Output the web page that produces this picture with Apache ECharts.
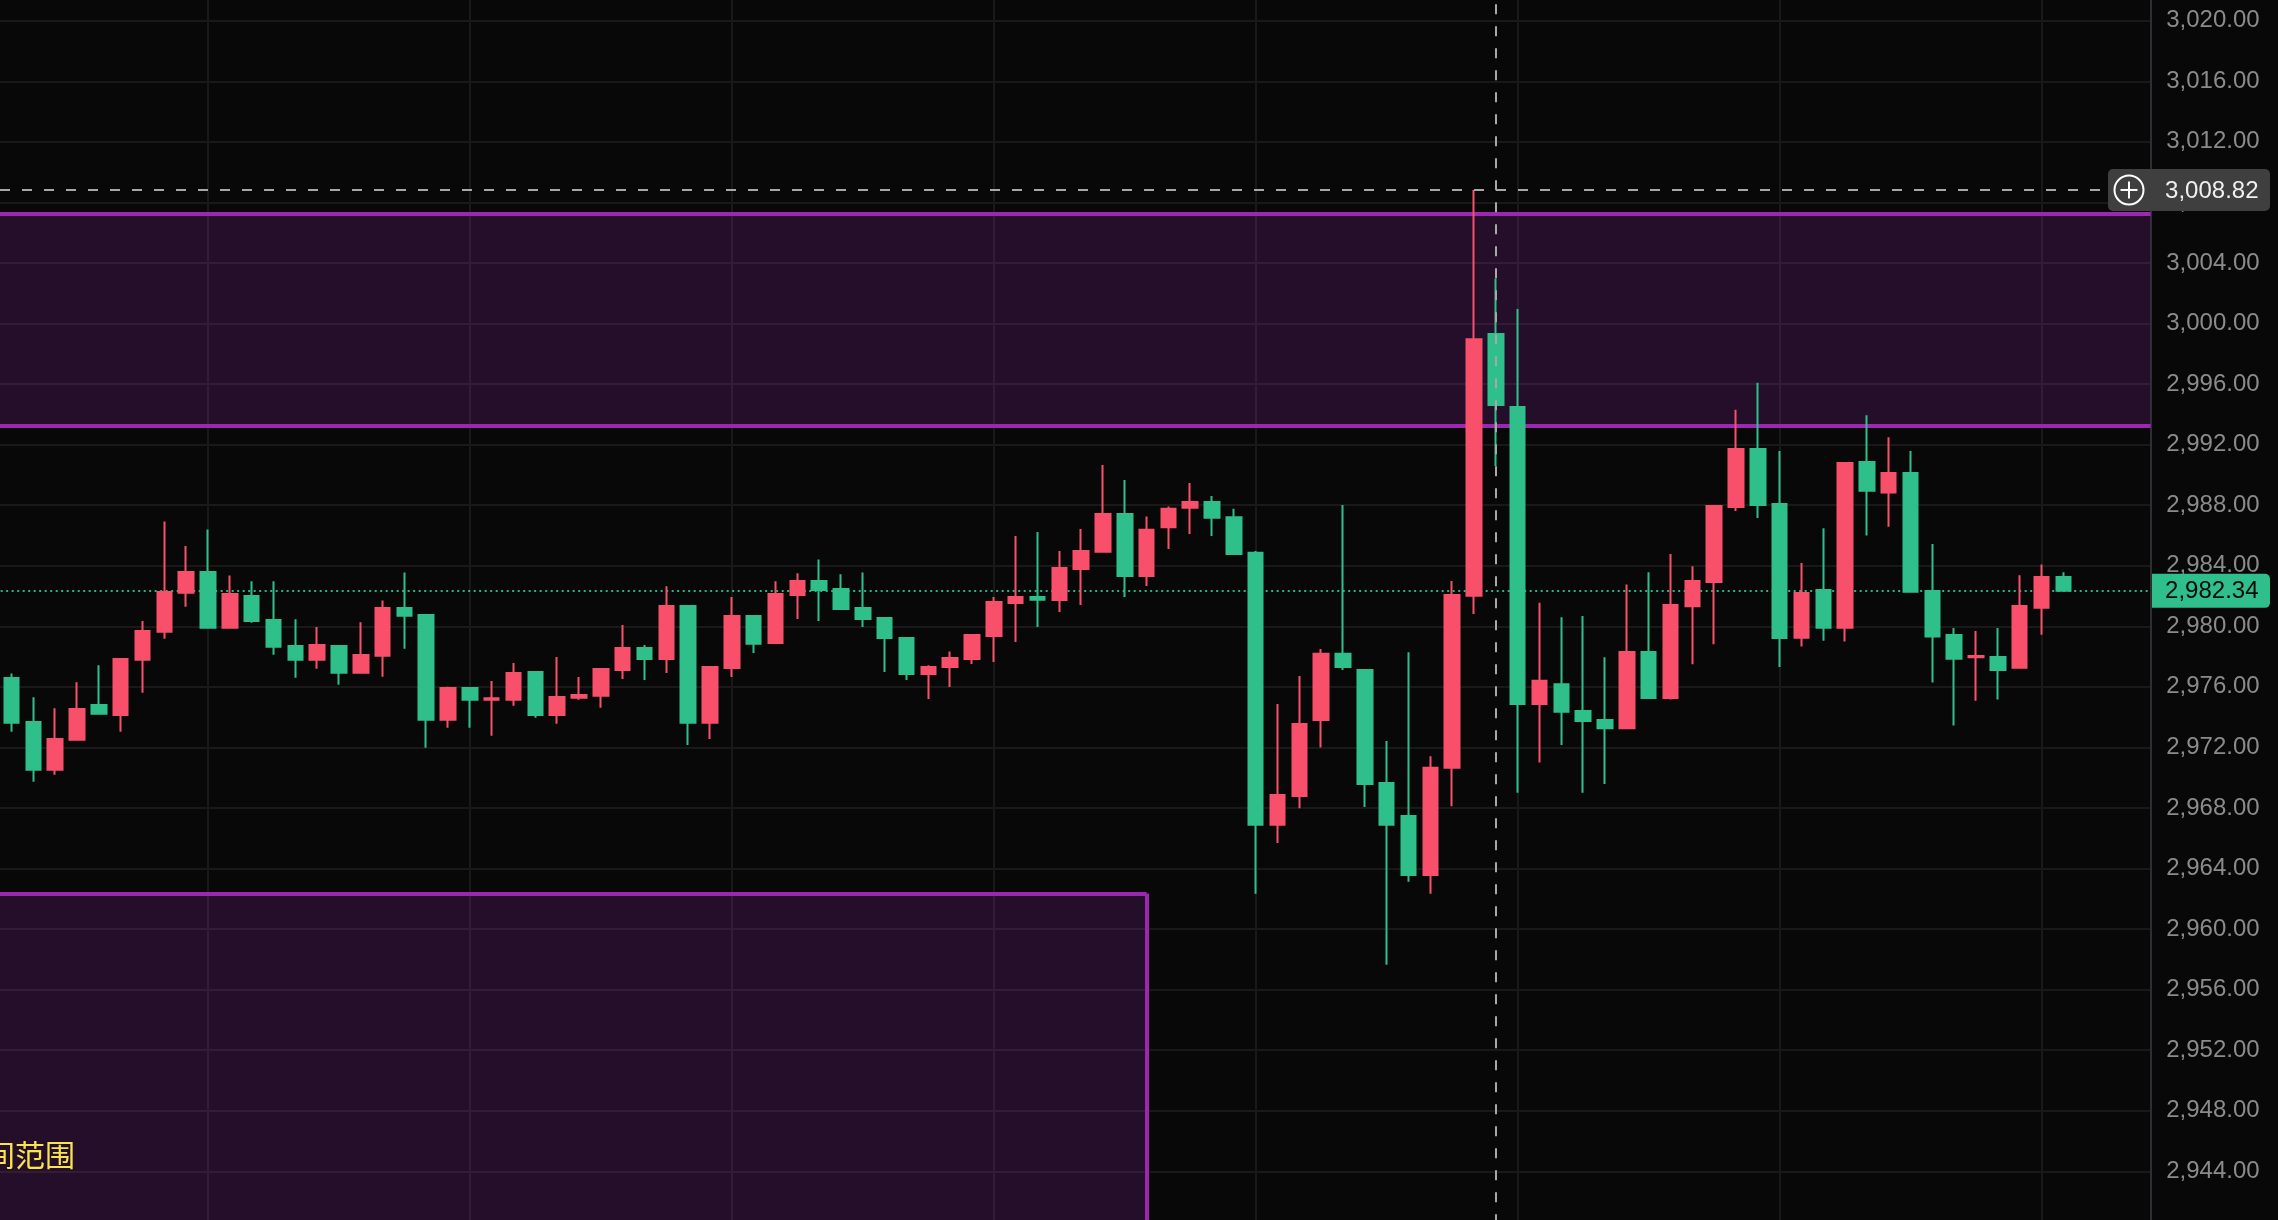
<!DOCTYPE html>
<html>
<head>
<meta charset="utf-8">
<style>html,body{margin:0;padding:0;background:#080808}#c{width:2278px;height:1220px}</style>
<script src="https://cdn.jsdelivr.net/npm/echarts@6/dist/echarts.min.js"></script>
</head>
<body>
<div id="c"></div>
<script>
const opens = [2976.58,2973.68,2970.53,2972.51,2974.80,2974.14,2977.79,2979.64,2982.22,2983.58,2979.91,2982.00,2980.41,2978.70,2977.79,2978.70,2976.93,2978.06,2981.21,2980.74,2973.83,2975.92,2975.15,2975.15,2976.98,2974.14,2975.28,2975.42,2977.11,2978.56,2977.84,2981.34,2973.63,2977.24,2980.68,2978.89,2982.06,2982.99,2982.46,2981.21,2980.55,2979.22,2976.85,2977.31,2977.84,2979.36,2981.54,2981.93,2981.73,2983.78,2984.92,2987.42,2983.32,2986.55,2987.83,2988.21,2987.21,2984.85,2966.90,2968.79,2973.81,2978.18,2977.11,2969.65,2967.47,2963.57,2970.65,2982.01,2999.31,2994.49,2974.86,2976.18,2974.40,2973.81,2973.27,2978.31,2975.26,2981.33,2982.92,2987.88,2991.71,2988.07,2979.25,2982.40,2979.91,2990.85,2988.83,2990.13,2982.33,2979.43,2977.95,2977.97,2977.27,2981.23,2983.26];
const closes = [2973.63,2970.53,2972.55,2974.53,2974.23,2977.84,2979.69,2982.26,2983.58,2979.91,2982.13,2980.35,2978.65,2977.79,2978.76,2976.93,2978.10,2981.21,2980.70,2973.83,2975.92,2975.15,2975.24,2976.91,2974.14,2975.33,2975.46,2977.18,2978.56,2977.84,2981.34,2973.63,2977.31,2980.68,2978.85,2982.13,2982.99,2982.39,2981.14,2980.48,2979.22,2976.85,2977.31,2977.90,2979.42,2981.60,2981.93,2981.76,2983.85,2984.97,2987.42,2983.32,2986.37,2987.76,2988.21,2987.17,2984.78,2966.90,2968.85,2973.54,2978.18,2977.32,2969.58,2966.90,2963.57,2970.65,2982.07,2998.96,2994.62,2974.86,2976.40,2974.35,2973.75,2973.27,2978.31,2975.26,2981.41,2983.00,2987.94,2991.71,2988.02,2979.23,2982.20,2979.91,2990.79,2988.96,2990.13,2982.29,2979.32,2977.86,2978.04,2977.11,2981.34,2983.26,2982.34];
const lows = [2973.04,2969.73,2970.20,2972.51,2974.23,2973.04,2975.61,2979.18,2981.29,2979.91,2979.91,2980.24,2978.12,2976.60,2977.20,2976.14,2976.93,2976.67,2978.52,2971.98,2973.30,2973.30,2972.77,2974.75,2973.96,2973.57,2975.15,2974.62,2976.52,2976.45,2976.91,2972.16,2972.55,2976.65,2978.23,2978.89,2980.48,2980.35,2981.14,2979.95,2976.98,2976.45,2975.19,2975.99,2977.51,2977.64,2978.96,2979.95,2980.94,2981.40,2984.92,2981.94,2982.66,2985.10,2986.10,2985.96,2984.78,2962.33,2965.69,2967.99,2972.00,2977.11,2968.06,2957.64,2963.12,2962.33,2968.12,2980.82,2990.58,2969.01,2971.01,2972.16,2969.01,2969.58,2973.27,2975.26,2975.16,2977.50,2978.82,2987.61,2987.15,2977.31,2978.66,2979.05,2978.99,2985.99,2986.58,2982.29,2976.28,2973.44,2975.09,2975.16,2977.27,2979.45,2982.29];
const highs = [2976.89,2975.31,2974.58,2976.30,2977.42,2977.88,2980.35,2986.93,2985.30,2986.40,2983.36,2982.97,2982.97,2980.46,2979.95,2978.70,2980.26,2981.71,2983.56,2980.74,2976.01,2975.92,2976.38,2977.57,2976.98,2977.97,2976.65,2977.18,2980.08,2978.76,2982.64,2981.34,2977.31,2981.93,2980.68,2982.97,2983.50,2984.42,2983.43,2983.56,2980.55,2979.22,2977.42,2978.34,2979.42,2981.93,2985.96,2986.23,2984.97,2986.42,2990.65,2989.67,2987.26,2987.92,2989.46,2988.60,2987.76,2984.98,2974.86,2976.72,2978.50,2988.01,2977.11,2972.42,2978.29,2971.42,2983.00,3008.82,3002.98,3000.96,2981.55,2980.60,2980.68,2977.96,2982.76,2983.57,2984.78,2983.97,2988.02,2994.30,2996.08,2991.58,2984.18,2986.47,2990.79,2993.94,2992.48,2991.58,2985.44,2979.89,2979.69,2979.89,2983.37,2984.09,2983.57];

const categories = Array.from({length: 100}, (_, i) => 'c' + i);
const verticalGridSlots = [10, 22, 34, 46, 58, 70, 82, 94];
const yMin = 2940, yMax = 3024, yStep = 4;
const upperZone = [3007.23, 2993.23];
const lowerZoneTop = 2962.35;
const lowerZoneEnd = 'c53';
const crosshairPrice = 3008.82, crosshairSlot = 'c69';
const lastPrice = 2982.34;
const zoneLabel = '区间范围';

const UP = '#F8506A', DOWN = '#2EBF8A', PURPLE = '#9C27B0', FILL = 'rgba(156,39,176,0.2)';
const FONT = '"Liberation Sans", Arial, sans-serif';

const rows = opens.map((o, i) => [i + 1, o, closes[i], lows[i], highs[i]]);
const first = categories[0], last = categories[categories.length - 1];
const fmt = v => v.toLocaleString('en-US', {minimumFractionDigits: 2, maximumFractionDigits: 2});
const purpleLine = {color: PURPLE, width: 4, type: 'solid', opacity: 1};

const chart = echarts.init(document.getElementById('c'), null, {renderer: 'canvas'});
chart.setOption({
  animation: false,
  backgroundColor: '#080808',
  grid: {left: -10.32, width: 2161, top: -39.86, height: 1271.76, containLabel: false, outerBoundsMode: 'none'},
  xAxis: {
    type: 'category', data: categories, boundaryGap: false,
    axisLine: {show: false}, axisTick: {show: false}, axisLabel: {show: false},
    splitLine: {show: true, interval: i => verticalGridSlots.includes(i), lineStyle: {color: '#19191a', width: 2}}
  },
  yAxis: {
    type: 'value', position: 'right', min: yMin, max: yMax, interval: yStep, scale: true,
    axisLine: {show: true, lineStyle: {color: '#2b2e33', width: 2}},
    axisTick: {show: false},
    axisLabel: {color: '#8b8b8b', fontFamily: FONT, fontSize: 24, margin: 15.5, padding: [2, 0, 0, 0], formatter: fmt},
    splitLine: {show: true, lineStyle: {color: '#191919', width: 2}}
  },
  series: [
    {
      type: 'candlestick', name: 'price', z: 3, data: rows,
      encode: {x: 0, y: [1, 2, 3, 4]},
      barWidth: 15, clip: false,
      itemStyle: {color: UP, color0: DOWN, borderColor: UP, borderColor0: DOWN, borderWidth: 2},
      markArea: {
        silent: true, z: 1, label: {show: false},
        itemStyle: {color: FILL, borderWidth: 0},
        data: [
          [{xAxis: first, yAxis: upperZone[0]}, {xAxis: last, yAxis: upperZone[1]}],
          [{xAxis: first, yAxis: lowerZoneTop}, {xAxis: lowerZoneEnd, yAxis: yMin}]
        ]
      },
      markLine: {
        silent: true, z: 1, symbol: 'none', label: {show: false}, lineStyle: purpleLine,
        data: [
          [{xAxis: first, yAxis: upperZone[0]}, {xAxis: last, yAxis: upperZone[0]}],
          [{xAxis: first, yAxis: upperZone[1]}, {xAxis: last, yAxis: upperZone[1]}],
          [{xAxis: first, yAxis: lowerZoneTop}, {xAxis: lowerZoneEnd, yAxis: lowerZoneTop}],
          [{xAxis: lowerZoneEnd, yAxis: lowerZoneTop}, {xAxis: lowerZoneEnd, yAxis: yMin}],
          [{xAxis: first, yAxis: lastPrice, lineStyle: {color: DOWN, width: 2, type: [2, 3.5], opacity: 0.95}},
           {xAxis: last, yAxis: lastPrice}]
        ]
      }
    },
    {
      type: 'line', name: 'crosshair', z: 6, data: [], showSymbol: false,
      markLine: {
        silent: true, z: 6, symbol: 'none', label: {show: false},
        lineStyle: {color: '#a8a8a8', width: 2, type: [10, 12], opacity: 1},
        data: [
          [{xAxis: first, yAxis: crosshairPrice, lineStyle: {color: '#a8a8a8', width: 2, type: [10, 12], dashOffset: 11.68, opacity: 1}},
           {xAxis: last, yAxis: crosshairPrice}],
          [{xAxis: crosshairSlot, yAxis: yMax}, {xAxis: crosshairSlot, yAxis: yMin}]
        ]
      }
    }
  ]
});

const yPx = v => chart.convertToPixel({yAxisIndex: 0}, v);
const yC = yPx(crosshairPrice), yL = yPx(lastPrice);
chart.setOption({
  graphic: [
    {type: 'rect', z: 50, shape: {x: 2108, y: yC - 21, width: 162, height: 42, r: 5}, style: {fill: '#3f3f3f'}},
    {type: 'circle', z: 51, shape: {cx: 2129, cy: yC, r: 14.5}, style: {fill: 'none', stroke: '#ffffff', lineWidth: 2}},
    {type: 'line', z: 51, shape: {x1: 2120.5, y1: yC, x2: 2137.5, y2: yC}, style: {stroke: '#ffffff', lineWidth: 2}},
    {type: 'line', z: 51, shape: {x1: 2129, y1: yC - 8.5, x2: 2129, y2: yC + 8.5}, style: {stroke: '#ffffff', lineWidth: 2}},
    {type: 'text', z: 51, style: {x: 2258.5, y: yC + 1, text: fmt(crosshairPrice), align: 'right', verticalAlign: 'middle', fill: '#f0f0f0', font: '24px ' + FONT}},
    {type: 'rect', z: 50, shape: {x: 2152, y: yL - 17, width: 118, height: 34, r: [0, 5, 5, 0]}, style: {fill: DOWN}},
    {type: 'text', z: 51, style: {x: 2258.5, y: yL + 1, text: fmt(lastPrice), align: 'right', verticalAlign: 'middle', fill: '#0a0a0a', font: '24px ' + FONT}},
    {type: 'text', z: 51, style: {x: 75, y: 1155, text: zoneLabel, align: 'right', verticalAlign: 'middle', fill: '#F8E44B', font: '30px "Noto Sans CJK SC"'}}
  ]
});
</script>
</body>
</html>
